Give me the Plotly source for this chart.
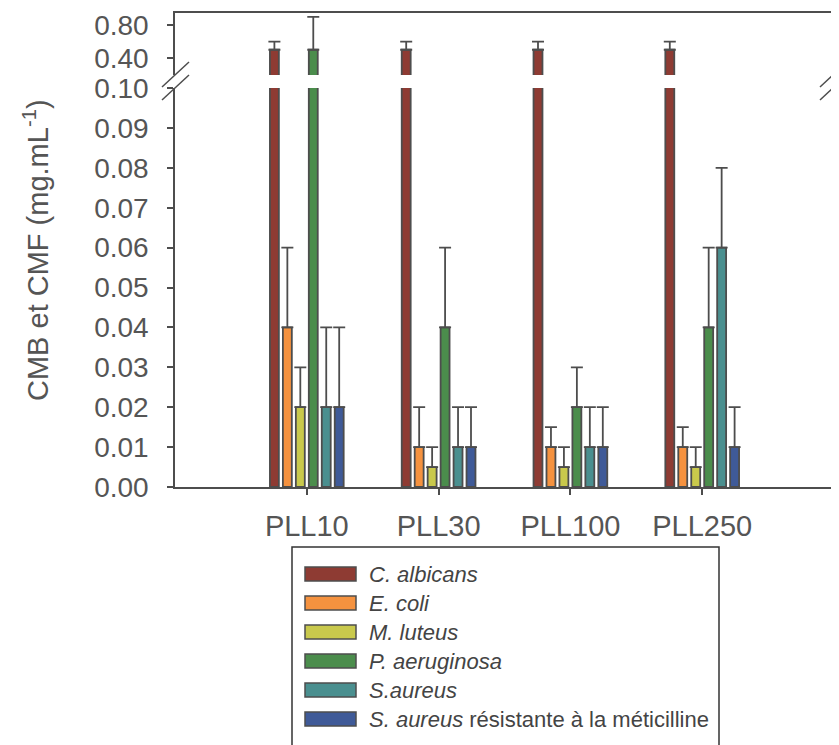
import plotly.graph_objects as go
from plotly.subplots import make_subplots

# ---------------- data ----------------
categories = ["PLL10", "PLL30", "PLL100", "PLL250"]
species = ["C. albicans", "E. coli", "M. luteus", "P. aeruginosa", "S.aureus",
           "S. aureus résistante à la méticilline"]
legend_labels = ["<i>C. albicans</i>", "<i>E. coli</i>", "<i>M. luteus</i>",
                 "<i>P. aeruginosa</i>", "<i>S.aureus</i>",
                 "<i>S. aureus</i> résistante à la méticilline"]

c_albicans = [0.5, 0.5, 0.5, 0.5]
e_coli = [0.04, 0.01, 0.01, 0.01]
m_luteus = [0.02, 0.005, 0.005, 0.005]
p_aeruginosa = [0.5, 0.04, 0.02, 0.04]
s_aureus = [0.02, 0.01, 0.01, 0.06]
s_aureus_mr = [0.02, 0.01, 0.01, 0.01]

err_c_albicans = [0.1, 0.1, 0.1, 0.1]
err_e_coli = [0.02, 0.01, 0.005, 0.005]
err_m_luteus = [0.01, 0.005, 0.005, 0.005]
err_p_aeruginosa = [0.4, 0.02, 0.01, 0.02]
err_s_aureus = [0.02, 0.01, 0.01, 0.02]
err_s_aureus_mr = [0.02, 0.01, 0.01, 0.01]

values = [c_albicans, e_coli, m_luteus, p_aeruginosa, s_aureus, s_aureus_mr]
errors = [err_c_albicans, err_e_coli, err_m_luteus, err_p_aeruginosa, err_s_aureus, err_s_aureus_mr]
colors = ["#8e3b33", "#f5923f", "#c9c94c", "#4b8d4c", "#4a8f8f", "#3f5a98"]

upper_ticks = [0.40, 0.80]
lower_ticks = [0.00, 0.01, 0.02, 0.03, 0.04, 0.05, 0.06, 0.07, 0.08, 0.09, 0.10]
upper_range = [0.194, 0.946]
lower_range = [0.0, 0.1]

# ---------------- geometry helpers ----------------
W, H = 839, 745
OFF = 8  # page body margin
ML, MT = 175 - OFF, 13 - OFF
MR = W - (834 - OFF)
MB = H - (487 - OFF)
PW, PH = W - ML - MR, H - MT - MB


def px_x(p):
    """screen pixel x -> paper fraction"""
    return (p - OFF - ML) / PW


def px_y(p):
    """screen pixel y -> paper fraction"""
    return (H - MB - (p - OFF)) / PH


AX = "#4d4d4d"
TXT = "#555555"
FONT = "Liberation Sans, Arial, sans-serif"

fig = make_subplots(rows=2, cols=1, shared_xaxes=True)

for row in (1, 2):
    for name, vals, errs, col in zip(species, values, errors, colors):
        fig.add_trace(go.Bar(
            x=categories, y=vals, name=name, showlegend=False,
            marker=dict(color=col, line=dict(color=AX, width=1.8)),
            error_y=dict(type="data", symmetric=False, array=errs,
                         arrayminus=[0] * len(errs), color=AX,
                         thickness=1.8, width=6),
        ), row=row, col=1)

fig.update_layout(
    width=W, height=H,
    margin=dict(l=ML, r=MR, t=MT, b=MB, autoexpand=False),
    paper_bgcolor="white", plot_bgcolor="white",
    barmode="group", bargap=0.41, bargroupgap=0.31,
    font=dict(family=FONT, color=TXT),
    showlegend=False,
)

fig.update_layout(
    xaxis=dict(domain=[0, 1], anchor="y", side="top", showline=True, linecolor=AX,
               linewidth=1.5, showticklabels=False, ticks="", showgrid=False,
               range=[-1, 4], type="category", automargin=False),
    yaxis=dict(domain=[px_y(75), 1], range=upper_range, tickvals=upper_ticks,
               tickformat=".2f", showline=True, mirror=True, linecolor=AX,
               linewidth=1.5, ticks="outside", ticklen=6, tickwidth=1.5,
               tickcolor=AX, showgrid=False, zeroline=False, automargin=False,
               tickfont=dict(size=28, color=TXT, family=FONT),
               ticklabelstandoff=13),
    xaxis2=dict(domain=[0, 1], anchor="y2", showline=True, linecolor=AX,
                linewidth=1.5, ticks="outside", ticklen=6, tickwidth=1.5,
                tickcolor=AX, showgrid=False, range=[-1, 4], type="category",
                automargin=False,
                tickfont=dict(size=29, color=TXT, family=FONT),
                ticklabelstandoff=6),
    yaxis2=dict(domain=[0, px_y(88)], range=lower_range, tickvals=lower_ticks,
                tickformat=".2f", showline=True, mirror=True, linecolor=AX,
                linewidth=1.5, ticks="outside", ticklen=6, tickwidth=1.5,
                tickcolor=AX, showgrid=False, zeroline=False, automargin=False,
                tickfont=dict(size=28, color=TXT, family=FONT),
                ticklabelstandoff=13),
)

# axis break marks
shapes = []
for cx in (175.5, 833.5):
    for dy in (0, 13):
        shapes.append(dict(type="line", xref="paper", yref="paper",
                           x0=px_x(cx - 13.5), y0=px_y(100 - dy),
                           x1=px_x(cx + 13.5), y1=px_y(75 - dy),
                           line=dict(color=AX, width=1.5)))

# legend box
shapes.append(dict(type="rect", xref="paper", yref="paper",
                   x0=px_x(292), y0=px_y(770), x1=px_x(719), y1=px_y(547),
                   line=dict(color="#333333", width=1.5), fillcolor="rgba(0,0,0,0)"))
annotations = []
for i, (lab, col) in enumerate(zip(legend_labels, colors)):
    cy = 574 + 29 * i
    shapes.append(dict(type="rect", xref="paper", yref="paper",
                       x0=px_x(305), x1=px_x(356), y0=px_y(cy + 7), y1=px_y(cy - 7),
                       fillcolor=col, line=dict(color=AX, width=1.5)))
    annotations.append(dict(text=lab, xref="paper", yref="paper",
                            x=px_x(367), y=px_y(cy), xanchor="left", yanchor="middle",
                            showarrow=False, font=dict(size=22, color="#444444", family=FONT)))

annotations.append(dict(text="CMB et CMF (mg.mL<sup>-1</sup>)", xref="paper", yref="paper",
                        x=px_x(36), y=px_y(250), xanchor="center", yanchor="middle",
                        textangle=-90, showarrow=False,
                        font=dict(size=29, color=TXT, family=FONT)))

fig.update_layout(shapes=shapes, annotations=annotations)

fig.write_html("out.html")
